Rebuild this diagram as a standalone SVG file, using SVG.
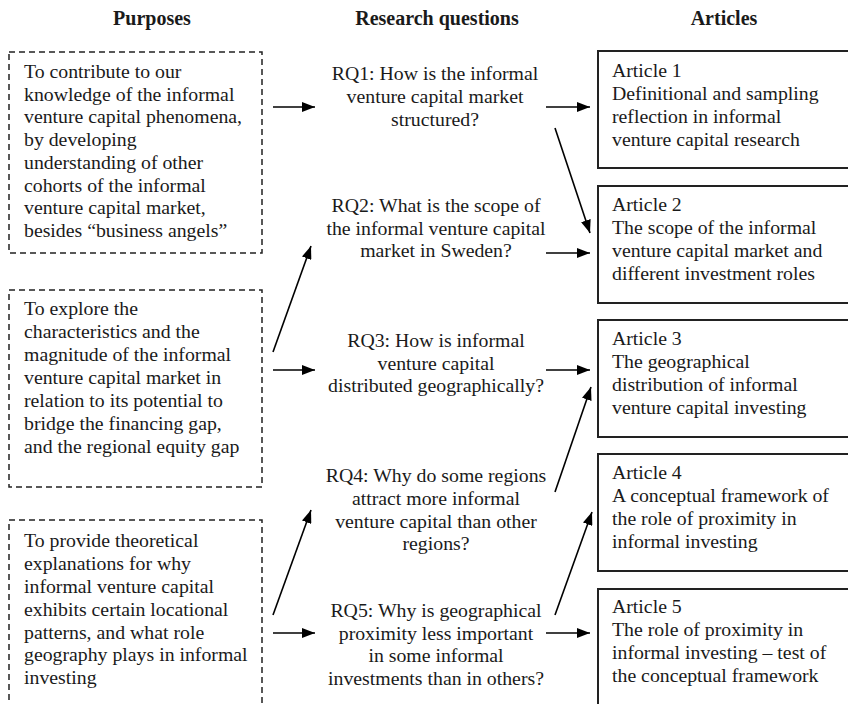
<svg xmlns="http://www.w3.org/2000/svg" width="848" height="704" viewBox="0 0 848 704">
<style>
text{font-family:"Liberation Serif","Times New Roman",serif;font-size:19.8px;fill:#1a1a1a}
.h{font-weight:bold;font-size:20px;text-anchor:middle}
.c{text-anchor:middle}
.dash{fill:none;stroke:#222;stroke-width:1.5;stroke-dasharray:6 4}
.art{fill:none;stroke:#222;stroke-width:2}
.arr{stroke:#000;stroke-width:1.6;fill:none;marker-end:url(#ah)}
</style>
<defs>
<marker id="ah" markerUnits="userSpaceOnUse" markerWidth="14" markerHeight="10" refX="13" refY="5" orient="auto">
<path d="M0,0 L13,5 L0,10 Z" fill="#000"/>
</marker>
</defs>
<rect width="848" height="704" fill="#fff"/>
<g id="headers">
<text class="h" x="152" y="25">Purposes</text>
<text class="h" x="437" y="25">Research questions</text>
<text class="h" x="724" y="25">Articles</text>
</g>
<g id="purpose1">
<rect class="dash" x="9" y="52" width="253" height="201"/>
<text x="24" y="78">To contribute to our</text>
<text x="24" y="100.7">knowledge of the informal</text>
<text x="24" y="123.4">venture capital phenomena,</text>
<text x="24" y="146.1">by developing</text>
<text x="24" y="168.8">understanding of other</text>
<text x="24" y="191.5">cohorts of the informal</text>
<text x="24" y="214.2">venture capital market,</text>
<text x="24" y="237">besides “business angels”</text>
</g>
<g id="purpose2">
<rect class="dash" x="9" y="290" width="253" height="197"/>
<text x="24" y="315">To explore the</text>
<text x="24" y="338">characteristics and the</text>
<text x="24" y="361">magnitude of the informal</text>
<text x="24" y="384">venture capital market in</text>
<text x="24" y="407">relation to its potential to</text>
<text x="24" y="430">bridge the financing gap,</text>
<text x="24" y="453">and the regional equity gap</text>
</g>
<g id="purpose3">
<path class="dash" d="M9,710 V520 H262 V710"/>
<text x="24" y="547">To provide theoretical</text>
<text x="24" y="570">explanations for why</text>
<text x="24" y="593">informal venture capital</text>
<text x="24" y="616">exhibits certain locational</text>
<text x="24" y="639">patterns, and what role</text>
<text x="24" y="661">geography plays in informal</text>
<text x="24" y="684">investing</text>
</g>
<g id="rq1">
<text class="c" x="435" y="80">RQ1: How is the informal</text>
<text class="c" x="435" y="103">venture capital market</text>
<text class="c" x="435" y="126">structured?</text>
</g>
<g id="rq2">
<text class="c" x="436" y="212">RQ2: What is the scope of</text>
<text class="c" x="436" y="234.5">the informal venture capital</text>
<text class="c" x="436" y="257">market in Sweden?</text>
</g>
<g id="rq3">
<text class="c" x="436" y="347">RQ3: How is informal</text>
<text class="c" x="436" y="369.5">venture capital</text>
<text class="c" x="436" y="392">distributed geographically?</text>
</g>
<g id="rq4">
<text class="c" x="436" y="482">RQ4: Why do some regions</text>
<text class="c" x="436" y="505">attract more informal</text>
<text class="c" x="436" y="527.5">venture capital than other</text>
<text class="c" x="436" y="550">regions?</text>
</g>
<g id="rq5">
<text class="c" x="436" y="617">RQ5: Why is geographical</text>
<text class="c" x="436" y="639.5">proximity less important</text>
<text class="c" x="436" y="662">in some informal</text>
<text class="c" x="436" y="685">investments than in others?</text>
</g>
<g id="article1">
<path class="art" d="M850,51 H598 V168 H850"/>
<text x="612" y="77">Article 1</text>
<text x="612" y="100">Definitional and sampling</text>
<text x="612" y="123">reflection in informal</text>
<text x="612" y="146">venture capital research</text>
</g>
<g id="article2">
<path class="art" d="M850,186 H598 V303 H850"/>
<text x="612" y="211">Article 2</text>
<text x="612" y="234">The scope of the informal</text>
<text x="612" y="257">venture capital market and</text>
<text x="612" y="280">different investment roles</text>
</g>
<g id="article3">
<path class="art" d="M850,320 H598 V437 H850"/>
<text x="612" y="345">Article 3</text>
<text x="612" y="368">The geographical</text>
<text x="612" y="391">distribution of informal</text>
<text x="612" y="414">venture capital investing</text>
</g>
<g id="article4">
<path class="art" d="M850,454 H598 V571 H850"/>
<text x="612" y="479">Article 4</text>
<text x="612" y="502">A conceptual framework of</text>
<text x="612" y="525">the role of proximity in</text>
<text x="612" y="548">informal investing</text>
</g>
<g id="article5">
<path class="art" d="M850,589 H598 V710"/>
<text x="612" y="613">Article 5</text>
<text x="612" y="636">The role of proximity in</text>
<text x="612" y="659">informal investing – test of</text>
<text x="612" y="682">the conceptual framework</text>
</g>
<g id="connectors">
<line class="arr" x1="273" y1="107" x2="315" y2="107"/>
<line class="arr" x1="546" y1="107" x2="590" y2="107"/>
<line class="arr" x1="555" y1="128" x2="590" y2="233"/>
<line class="arr" x1="546" y1="253" x2="590" y2="253"/>
<line class="arr" x1="273" y1="352" x2="311" y2="246"/>
<line class="arr" x1="273" y1="370" x2="315" y2="370"/>
<line class="arr" x1="546" y1="370" x2="590" y2="370"/>
<line class="arr" x1="555" y1="492" x2="591" y2="387"/>
<line class="arr" x1="273" y1="615" x2="311" y2="510"/>
<line class="arr" x1="273" y1="633" x2="315" y2="633"/>
<line class="arr" x1="555" y1="615" x2="592" y2="512"/>
<line class="arr" x1="546" y1="633" x2="590" y2="633"/>
</g>
</svg>
